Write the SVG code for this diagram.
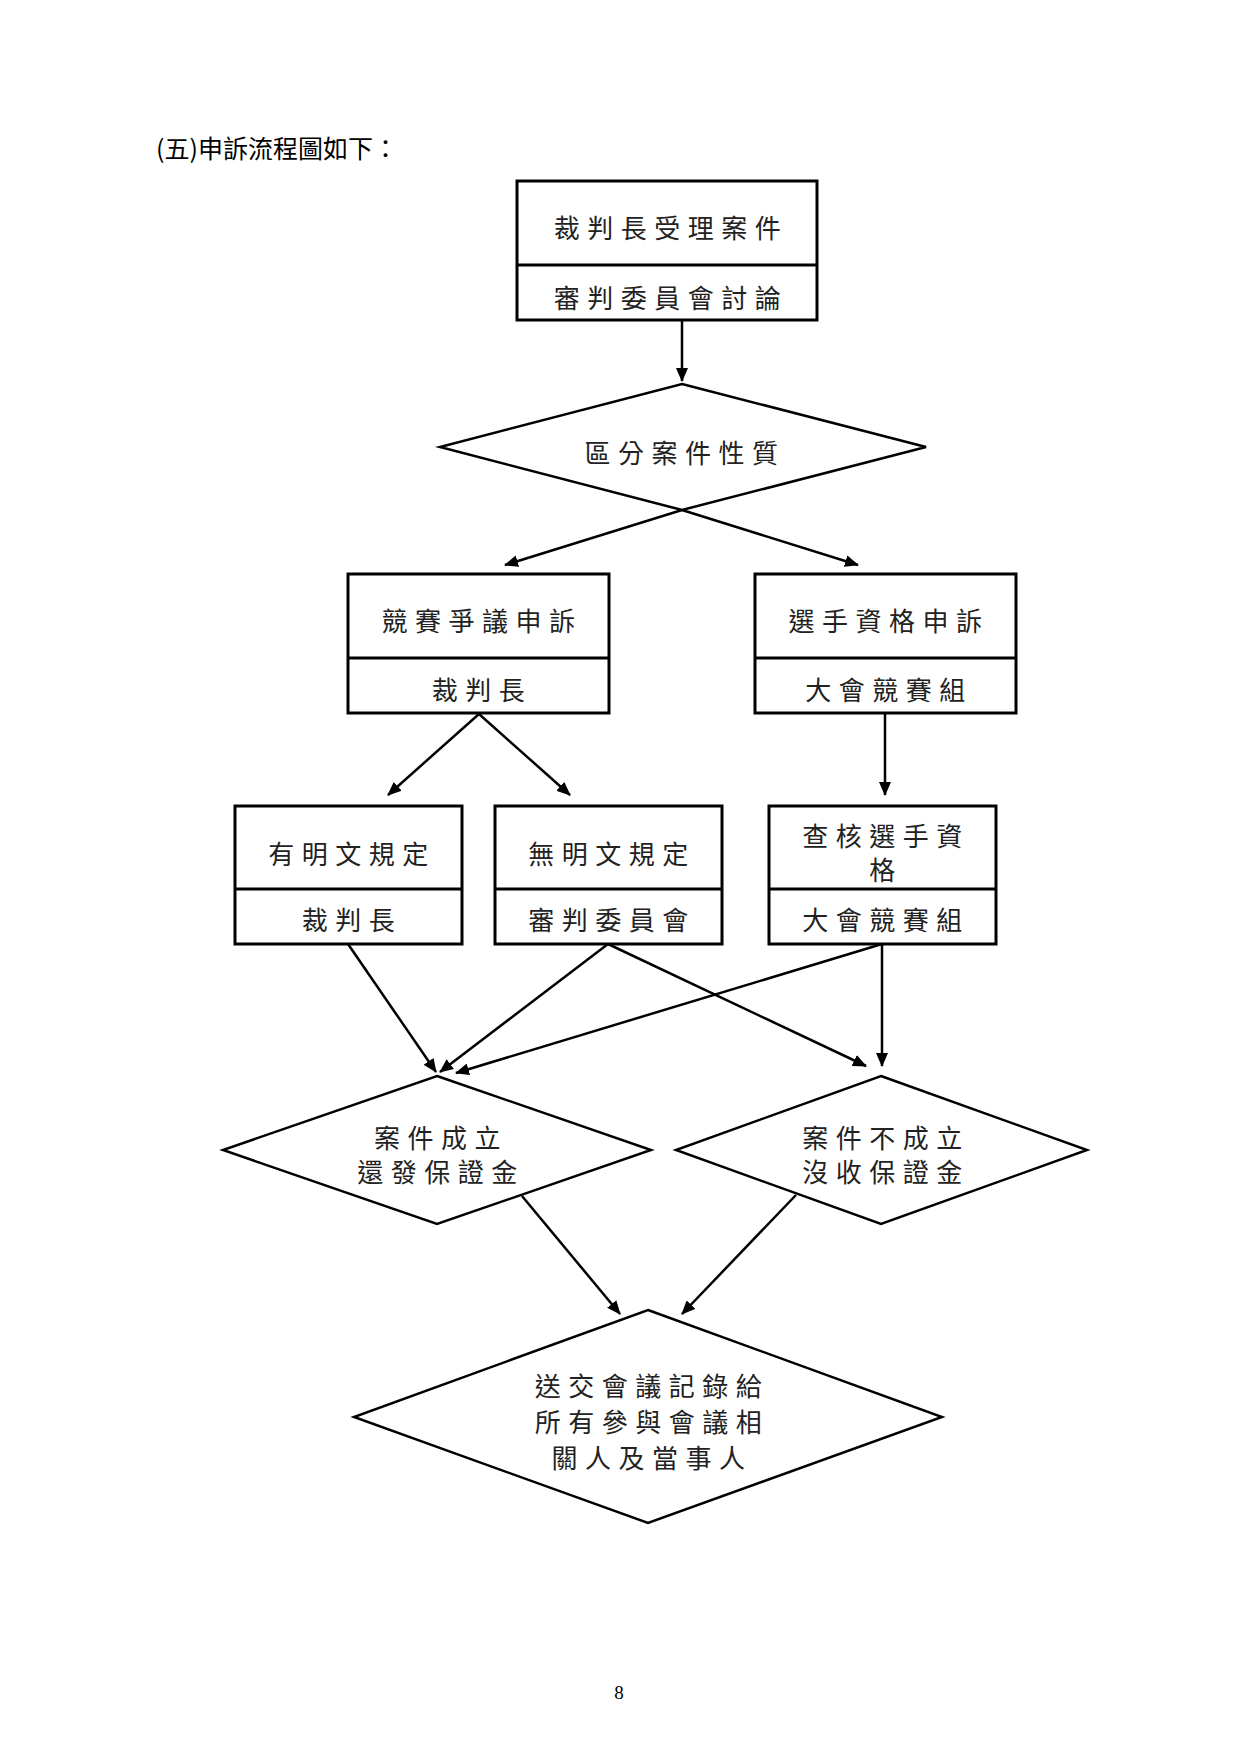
<svg xmlns="http://www.w3.org/2000/svg" width="1241" height="1755" viewBox="0 0 1241 1755">
<style>
.box{fill:#fff;stroke:#000;stroke-width:3}
.div{stroke:#000;stroke-width:3}
.dia{fill:#fff;stroke:#000;stroke-width:2.5;stroke-linejoin:miter}
.t{font-family:"Noto Sans CJK TC","Noto Sans CJK SC",sans-serif;font-size:26px;letter-spacing:7.5px;fill:#222;text-anchor:middle;dominant-baseline:central}
.title{font-family:"Noto Sans CJK TC","Noto Sans CJK SC",sans-serif;font-size:25px;fill:#000;dominant-baseline:central}
.pg{font-family:"Liberation Serif",serif;font-size:19px;fill:#000;text-anchor:middle;dominant-baseline:central}
.c{stroke:#000;stroke-width:2.5;fill:none;marker-end:url(#ah)}
</style>
<defs>
<marker id="ah" markerUnits="userSpaceOnUse" markerWidth="14" markerHeight="12" refX="13" refY="6" orient="auto">
<path d="M0,0 L14,6 L0,12 Z" fill="#000"/>
</marker>
</defs>
<rect width="1241" height="1755" fill="#fff"/>
<text class="title" x="156" y="147">(五)申訴流程圖如下：</text>

<g id="connectors">
<line class="c" x1="682" y1="321" x2="682" y2="381"/>
<line class="c" x1="682" y1="510" x2="505" y2="565"/>
<line class="c" x1="682" y1="510" x2="858" y2="565"/>
<line class="c" x1="479" y1="714" x2="388" y2="795"/>
<line class="c" x1="479" y1="714" x2="570" y2="795"/>
<line class="c" x1="885" y1="714" x2="885" y2="795"/>
<line class="c" x1="348" y1="944" x2="436" y2="1072"/>
<line class="c" x1="608" y1="944" x2="440" y2="1072"/>
<line class="c" x1="608" y1="944" x2="866" y2="1066"/>
<line class="c" x1="882" y1="944" x2="456" y2="1073"/>
<line class="c" x1="882" y1="944" x2="882" y2="1066"/>
<line class="c" x1="522" y1="1196" x2="620" y2="1314"/>
<line class="c" x1="796" y1="1195" x2="682" y2="1314"/>
</g>

<g id="n1">
<rect class="box" x="517" y="181" width="300" height="139"/>
<line class="div" x1="517" y1="265" x2="817" y2="265"/>
<text class="t" x="671" y="226">裁判長受理案件</text>
<text class="t" x="671" y="296">審判委員會討論</text>
</g>

<g id="d1">
<polygon class="dia" points="682,384 926,447 682,510 440,447"/>
<text class="t" x="685" y="451">區分案件性質</text>
</g>

<g id="n2">
<rect class="box" x="348" y="574" width="261" height="139"/>
<line class="div" x1="348" y1="658" x2="609" y2="658"/>
<text class="t" x="482" y="619">競賽爭議申訴</text>
<text class="t" x="482" y="688">裁判長</text>
</g>

<g id="n3">
<rect class="box" x="755" y="574" width="261" height="139"/>
<line class="div" x1="755" y1="658" x2="1016" y2="658"/>
<text class="t" x="889" y="619">選手資格申訴</text>
<text class="t" x="889" y="688">大會競賽組</text>
</g>

<g id="n4">
<rect class="box" x="235" y="806" width="227" height="138"/>
<line class="div" x1="235" y1="889" x2="462" y2="889"/>
<text class="t" x="352" y="852">有明文規定</text>
<text class="t" x="352" y="918">裁判長</text>
</g>

<g id="n5">
<rect class="box" x="495" y="806" width="227" height="138"/>
<line class="div" x1="495" y1="889" x2="722" y2="889"/>
<text class="t" x="612" y="852">無明文規定</text>
<text class="t" x="612" y="918">審判委員會</text>
</g>

<g id="n6">
<rect class="box" x="769" y="806" width="227" height="138"/>
<line class="div" x1="769" y1="889" x2="996" y2="889"/>
<text class="t" x="886" y="834">查核選手資</text>
<text class="t" x="886" y="868">格</text>
<text class="t" x="886" y="918">大會競賽組</text>
</g>

<g id="d2">
<polygon class="dia" points="437,1076 651,1150 437,1224 223,1150"/>
<text class="t" x="441" y="1136">案件成立</text>
<text class="t" x="441" y="1170">還發保證金</text>
</g>

<g id="d3">
<polygon class="dia" points="881,1076 1087,1150 881,1224 676,1150"/>
<text class="t" x="886" y="1136">案件不成立</text>
<text class="t" x="886" y="1170">沒收保證金</text>
</g>

<g id="d4">
<polygon class="dia" points="648,1310 942,1417 648,1523 354,1417"/>
<text class="t" x="652" y="1384">送交會議記錄給</text>
<text class="t" x="652" y="1420">所有參與會議相</text>
<text class="t" x="652" y="1456">關人及當事人</text>
</g>

<text class="pg" x="619" y="1692">8</text>
</svg>
